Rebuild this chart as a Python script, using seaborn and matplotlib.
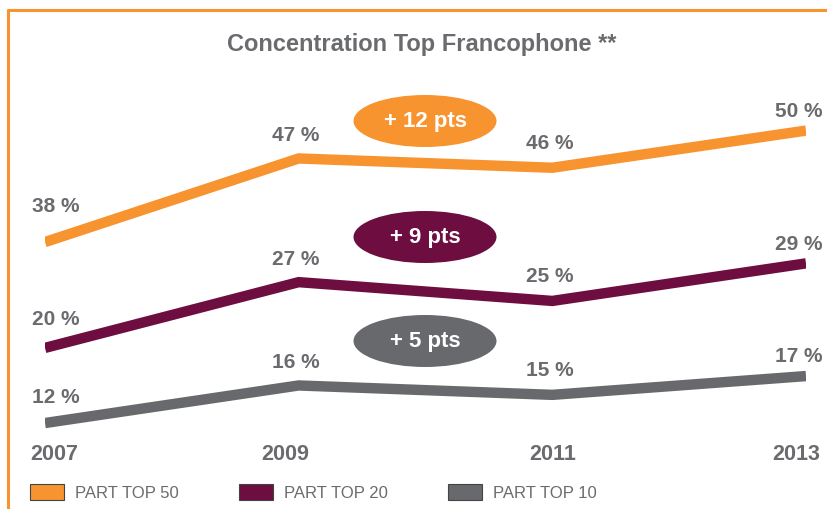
import matplotlib
matplotlib.use("Agg")
import matplotlib.pyplot as plt
import matplotlib.transforms as mtransforms
import numpy as np
import pandas as pd
import seaborn as sns
from matplotlib.patches import Ellipse, Patch
from matplotlib.lines import Line2D

# Data
years = [2007, 2009, 2011, 2013]
top50 = [38, 47, 46, 50]
top20 = [20, 27, 25, 29]
top10 = [12, 16, 15, 17]
series_names = ["PART TOP 50", "PART TOP 20", "PART TOP 10"]
gains = ["+ 12 pts", "+ 9 pts", "+ 5 pts"]
title = "Concentration Top Francophone **"

# Colours
orange = "#F7942F"
maroon = "#6E0E40"
grey = "#68696C"
text_grey = "#6A6B6E"

sns.set_theme(style="white")
plt.rcParams["font.family"] = ["Liberation Sans", "DejaVu Sans"]

fig = plt.figure(figsize=(8.27, 5.10), dpi=100)
W, H = 827, 510

# axes spanning the plotting area (pixel box -> figure fraction)
ax = fig.add_axes([45 / W, 1 - 440 / H, (806 - 45) / W, 340 / H])
ax2 = ax.twinx()  # top 50 is drawn on its own (shifted) scale in the original

df = pd.DataFrame({"year": years, "top50": top50, "top20": top20, "top10": top10})

lw = 7.5
sns.lineplot(data=df, x="year", y="top20", color=maroon, lw=lw, ax=ax,
             solid_joinstyle="miter", solid_capstyle="butt")
sns.lineplot(data=df, x="year", y="top10", color=grey, lw=lw, ax=ax,
             solid_joinstyle="miter", solid_capstyle="butt")
sns.lineplot(data=df, x="year", y="top50", color=orange, lw=lw, ax=ax2,
             solid_joinstyle="miter", solid_capstyle="butt")

ax.set_xlim(2007, 2013)
ax.set_ylim(10.3, 46.5)
ax2.set_ylim(16.8, 53.4)

for a in (ax, ax2):
    a.set_xlabel("")
    a.set_ylabel("")
    a.set_yticks([])
    for s in a.spines.values():
        s.set_visible(False)

ax.set_xticks(years)
ax.set_xticklabels([str(y) for y in years], fontsize=15.5, fontweight="bold",
                   color=text_grey)
ax.tick_params(axis="x", length=0, pad=3)
# nudge the year labels like in the original layout (pixels)
for lab, dx in zip(ax.get_xticklabels(), [9, -13, 0, -10]):
    lab.set_transform(lab.get_transform() +
                      mtransforms.ScaledTranslation(dx / 100, 0, fig.dpi_scale_trans))

# value labels: (dx, dy) offsets in points per year position, first label per series
offsets = [(8, 26), (-2, 17), (-2, 18), (-5, 14.5)]
first_dy = [26, 21, 19]
for a, vals, dy0 in ((ax2, top50, first_dy[0]), (ax, top20, first_dy[1]), (ax, top10, first_dy[2])):
    for i, ((dx, dy), x, v) in enumerate(zip(offsets, years, vals)):
        if i == 0:
            dy = dy0
        a.annotate(f"{v} %", (x, v), xytext=(dx, dy), textcoords="offset points",
                   ha="center", va="center", fontsize=15, fontweight="bold",
                   color=text_grey)

# gain bubbles
for (cy, col), txt in zip([(122, orange), (238, maroon), (342, grey)], gains):
    e = Ellipse((425 / W, 1 - cy / H), 143 / W, 52 / H, transform=fig.transFigure,
                facecolor=col, edgecolor="none", zorder=5)
    fig.patches.append(e)
    fig.text(425 / W, 1 - cy / H, txt, ha="center", va="center", fontsize=16,
             fontweight="bold", color="white", zorder=6)

# title
fig.text(422 / W, 1 - 44 / H, title, ha="center", va="center", fontsize=17,
         fontweight="bold", color=text_grey)

# orange frame (top and left edges)
fig.add_artist(Line2D([8 / W, 1], [1 - 11 / H, 1 - 11 / H], color=orange, lw=2.2,
                      transform=fig.transFigure))
fig.add_artist(Line2D([8 / W, 8 / W], [0, 1 - 11 / H], color=orange, lw=2.2,
                      transform=fig.transFigure))

# legend
handles = [Patch(facecolor=c, edgecolor="#444444", lw=0.8) for c in (orange, maroon, grey)]
fig.legend(handles, series_names, loc="center left", bbox_to_anchor=(30 / W, 1 - 493 / H),
           ncol=3, frameon=False, handlelength=2.05, handleheight=1.08, handletextpad=0.66,
           columnspacing=3.6, borderaxespad=0, borderpad=0,
           prop={"size": 12}, labelcolor=text_grey)

fig.savefig("out.png", dpi=100)
